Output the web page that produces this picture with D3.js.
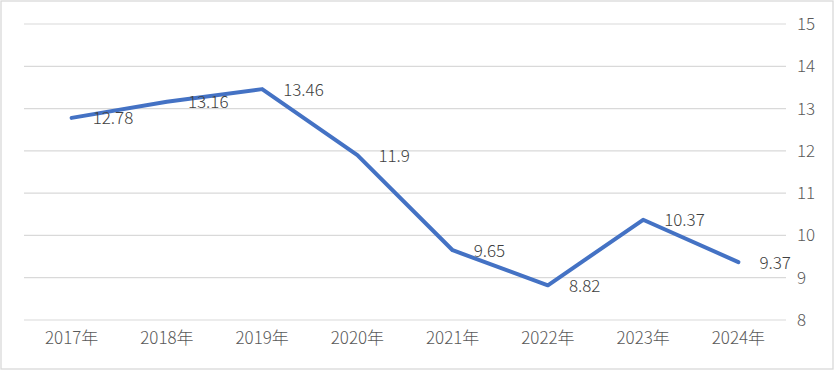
<!DOCTYPE html>
<html><head><meta charset="utf-8">
<script src="https://cdn.jsdelivr.net/npm/d3@7"></script>
<style>body{margin:0;background:#fff;}svg{display:block;}</style>
</head><body>
<script>
const categories = ["2017年","2018年","2019年","2020年","2021年","2022年","2023年","2024年"];
const values = [12.78, 13.16, 13.46, 11.9, 9.65, 8.82, 10.37, 9.37];
const labels = ["12.78","13.16","13.46","11.9","9.65","8.82","10.37","9.37"];
const yTicks = [8,9,10,11,12,13,14,15];

const W = 834, H = 370;
const font = "'Noto Sans CJK SC', 'Noto Sans', sans-serif";
const svg = d3.select("body").append("svg").attr("width", W).attr("height", H);
svg.append("rect").attr("x",1).attr("y",1).attr("width",W-2).attr("height",H-2)
  .attr("fill","#fff").attr("stroke","#d9d9d9").attr("stroke-width",1.3);

const x = d3.scaleBand().domain(categories).range([24, 786]);
const y = d3.scaleLinear().domain([8,15]).range([320, 24]);

// gridlines
svg.append("g").selectAll("line").data(yTicks).join("line")
  .attr("x1",24).attr("x2",786)
  .attr("y1",d=>y(d)).attr("y2",d=>y(d))
  .attr("stroke","#d9d9d9").attr("stroke-width",1.2);

// right axis
const yAxis = d3.axisRight(y).tickValues(yTicks).tickFormat(d3.format("d")).tickSize(0).tickPadding(0);
const ga = svg.append("g").attr("transform","translate(797,0)").call(yAxis);
ga.select(".domain").remove();
ga.selectAll("text").attr("font-family",font).attr("font-size",17).attr("font-weight",300).attr("fill","#595959");

// bottom axis
const xAxis = d3.axisBottom(x).tickSize(0).tickPadding(0);
const gx = svg.append("g").attr("transform","translate(0,332)").call(xAxis);
gx.select(".domain").remove();
gx.selectAll("text").attr("font-family",font).attr("font-size",17).attr("font-weight",300).attr("fill","#595959");

// line
const line = d3.line().x((d,i)=>x(categories[i])+x.bandwidth()/2).y(d=>y(d));
svg.append("path").datum(values).attr("d",line)
  .attr("fill","none").attr("stroke","#4472C4").attr("stroke-width",4)
  .attr("stroke-linejoin","round").attr("stroke-linecap","round");

// data labels
svg.append("g").selectAll("text").data(values).join("text")
  .attr("x",(d,i)=>x(categories[i])+x.bandwidth()/2+21)
  .attr("y",d=>y(d)+0.5)
  .attr("dy","0.35em")
  .attr("font-family",font).attr("font-size",17).attr("font-weight",300).attr("fill","#404040")
  .text((d,i)=>labels[i]);
</script>
</body></html>
